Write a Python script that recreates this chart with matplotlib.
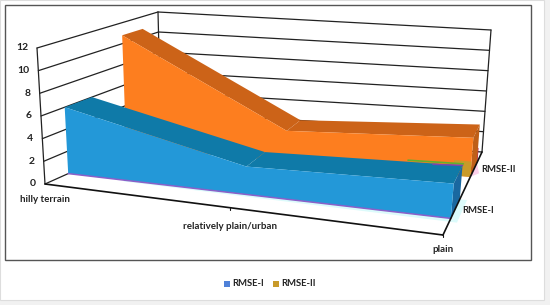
import matplotlib
matplotlib.use("Agg")
import matplotlib.pyplot as plt
import numpy as np

plt.rcParams['font.family'] = ['Lato', 'DejaVu Sans']

categories = ['hilly terrain', 'relatively plain/urban', 'plain']
series_names = ['RMSE-I', 'RMSE-II']
rmse_1 = [6.0, 2.5, 3.1]
rmse_2 = [10.8, 2.9, 3.7]
y_ticks = [0, 2, 4, 6, 8, 10, 12]

# where the box of the excel 3d chart sits in the picture
# front-left, back-left, front-right, back-right
bottom = np.array([[45, 184], [161, 132], [443, 235], [482, 152]], float)
top = np.array([[37, 48], [158, 12], [455, 97], [491, 30]], float)
cat_pos = [0, 0.465, 1]
ymax = 12


def project(u, d, v):
    # u along categories, d into the depth, v the value
    b = (1-u)*((1-d)*bottom[0] + d*bottom[1]) + u*((1-d)*bottom[2] + d*bottom[3])
    t = (1-u)*((1-d)*top[0] + d*top[1]) + u*((1-d)*top[2] + d*top[3])
    return b + (t-b)*v/ymax


def poly(ax, pts, color, z):
    ax.fill([p[0] for p in pts], [p[1] for p in pts], color=color, lw=0, zorder=z)


def line(ax, a, b, color='#222222', lw=0.9, z=1):
    ax.plot([a[0], b[0]], [a[1], b[1]], color=color, lw=lw, zorder=z, solid_capstyle='round')


def area(ax, vals, d0, d1, front, roof, side, z):
    # front face
    pts = [project(u, d0, v) for u, v in zip(cat_pos, vals)]
    pts += [project(1, d0, 0), project(0, d0, 0)]
    # roof pieces
    for i in range(2):
        poly(ax, [project(cat_pos[i], d0, vals[i]), project(cat_pos[i+1], d0, vals[i+1]),
                  project(cat_pos[i+1], d1, vals[i+1]), project(cat_pos[i], d1, vals[i])], roof, z)
    poly(ax, [project(1, d0, vals[2]), project(1, d1, vals[2]),
              project(1, d1, 0), project(1, d0, 0)], side, z)
    poly(ax, pts, front, z+0.1)


fig = plt.figure(figsize=(5.5, 3.05), dpi=100)
ax = fig.add_axes([0, 0, 1, 1])
ax.set_xlim(0, 550)
ax.set_ylim(305, 0)
ax.axis('off')

# page and chart frame
fig.patch.set_facecolor('#f1f1f1')
ax.add_patch(plt.Rectangle((0, 0), 544, 300, fc='white', ec='#dddddd', lw=0.8, zorder=0))
ax.add_patch(plt.Rectangle((4.5, 5), 252+274.5, 255, fc='white', ec='#555555', lw=1.0, zorder=0.5))

# walls
for t in y_ticks:
    line(ax, project(0, 0, t), project(0, 1, t))
    line(ax, project(0, 1, t), project(1, 1, t))
line(ax, project(0, 0, 0), project(0, 0, ymax))
line(ax, project(0, 1, 0), project(0, 1, ymax))
line(ax, project(1, 1, 0), project(1, 1, ymax))

# floor
line(ax, project(0, 0, 0), project(1, 0, 0), color='#111111', lw=1.2, z=6)
line(ax, project(1, 0, 0), project(1, 1, 0), color='#111111', lw=1.2, z=6)
tick = project(cat_pos[1], 0, 0)
line(ax, tick, tick + [0, 2], color='#111111', lw=0.8, z=6)
tick = project(1, 0, 0)
line(ax, tick, tick + [0, 2], color='#111111', lw=0.8, z=6)

# pale halo and colour fringes left along the base of the areas
poly(ax, [project(0.15, 0.2, 0), project(1.02, 0.2, 0), project(1.02, 0.16, 0), project(0.15, 0.18, 0)], '#dcfbfb', 2)
poly(ax, [project(1, 0.43, 0), project(1.02, 0.43, 0), project(1.02, 0.2, 0), project(1, 0.2, 0)], '#dcfbfb', 2)
poly(ax, [project(1, 0.7, 0), project(1.02, 0.75, 0), project(1, 0.87, 0)], '#fbd0ea', 2)
line(ax, project(1, 0.87, 0), project(1, 0.87, 1.4), color='#c02050', lw=0.8, z=2)

area(ax, rmse_2, 0.7, 0.87, '#fd7e1f', '#cc6318', '#bf5f18', 3)
poly(ax, [project(0.95, 0.7, 0), project(1, 0.7, 0), project(1, 0.7, 1.45), project(0.95, 0.7, 1.45)], '#c89a2a', 3.2)
fringe = np.interp([0.85, 1], cat_pos, rmse_1)
line(ax, project(0.85, 0.45, fringe[0]), project(1, 0.45, fringe[1]), color='#60b030', lw=1.2, z=3.3)
area(ax, rmse_1, 0.2, 0.43, '#2398d8', '#0f7aa8', '#1a68a0', 4)
line(ax, project(0, 0.2, 0), project(1, 0.2, 0), color='#8a60c8', lw=1.1, z=5)
line(ax, project(0.92, 0.43, fringe[0]), project(1, 0.43, fringe[1]), color='#7a45b0', lw=1.1, z=5)

# labels
for t in y_ticks:
    p = project(0, 0, t)
    ax.text(p[0]-9, p[1], str(t), ha='right', va='center', fontsize=7.5, fontweight='bold', color='#222222')
for u, name, dy in zip(cat_pos, categories, [16, 18.5, 14]):
    p = project(u, 0, 0)
    ax.text(p[0], p[1]+dy, name, ha='center', va='center', fontsize=7, fontweight='bold', color='#222222')
for d, name in zip([0.31, 0.8], series_names):
    p = project(1, d, 0)
    ax.text(p[0]+7, p[1]+1, name, ha='left', va='center', fontsize=6.8, fontweight='bold', color='#222222')

# legend
for x, name, col in zip([224, 273], series_names, ['#4f81d8', '#c89a2a']):
    ax.add_patch(plt.Rectangle((x, 280.5), 6, 6, fc=col, ec='none'))
    ax.text(x+8, 283.5, name, ha='left', va='center', fontsize=6.8, fontweight='bold', color='#222222')

fig.savefig('out.png', dpi=100, facecolor=fig.get_facecolor())
